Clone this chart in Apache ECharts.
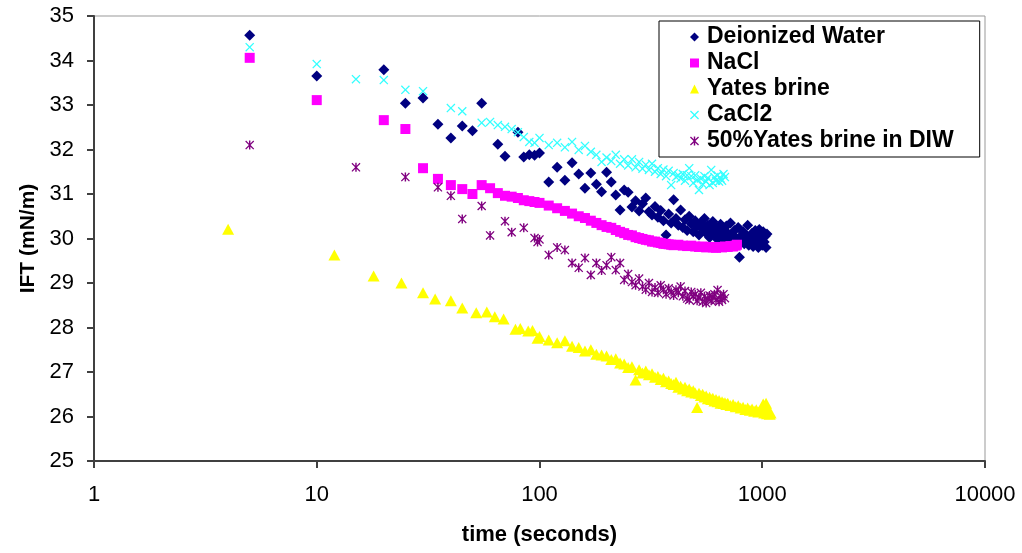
<!DOCTYPE html>
<html><head><meta charset="utf-8">
<script src="https://cdn.jsdelivr.net/npm/echarts@6/dist/echarts.min.js"></script>
<style>html,body{margin:0;padding:0;background:#fff}#c{width:1022px;height:553px}</style>
</head><body><div id="c"></div>
<script>
// ---- data (time in seconds, IFT in mN/m) ----
const seriesNames = ['Deionized Water', 'NaCl', 'Yates brine', 'CaCl2', '50%Yates brine in DIW'];
const xTickLabels = ['1', '10', '100', '1000', '10000'];
const yTickLabels = ['25', '26', '27', '28', '29', '30', '31', '32', '33', '34', '35'];

const diwData = [
  [5,34.57],[10,33.65],[20,33.79],[25,33.04],[30,33.16],[35,32.57],[40,32.26],[45,32.53],[50,32.42],[55,33.04],
  [65,32.12],[70,31.85],[80,32.39],[85,31.83],[90,31.88],[95,31.87],
  [100,31.92],[110,31.27],[120,31.60],[130,31.31],[140,31.70],[150,31.45],[160,31.13],[170,31.47],[180,31.22],[190,31.05],
  [200,31.49],[210,31.27],[220,30.98],[230,30.64],[240,31.09],[250,31.04],[260,30.71],[270,30.85],[280,30.62],[290,30.78],
  [300,30.91],[310,30.60],[320,30.53],[330,30.72],[340,30.48],[350,30.63],[360,30.40],[370,30.08],[380,30.55],[390,30.35],
  [400,30.87],[410,30.45],[420,30.30],[430,30.64],[440,30.25],[450,30.42],[460,30.18],[470,30.50],[480,30.33],[490,30.15],
  [500,30.40],[510,30.28],[520,30.08],[530,30.35],[540,30.22],[550,30.45],[560,30.12],[570,30.30],[580,30.02],[590,30.20],
  [600,30.38],[610,30.10],[620,30.25],[630,29.98],[640,30.15],[650,30.32],[660,30.05],[670,30.20],[680,29.95],[690,30.28],
  [700,30.12],[710,30.00],[720,30.35],[730,30.08],[740,29.93],[750,30.18],[760,30.02],[770,29.90],[780,30.25],[790,29.58],
  [800,30.05],[810,29.95],[820,30.15],[830,29.88],[840,30.08],[850,29.98],[860,30.30],[870,29.85],[880,30.05],[890,29.92],
  [900,30.12],[910,29.82],[920,30.00],[930,30.18],[940,29.88],[950,30.05],[960,29.80],[970,30.20],[980,29.95],[990,30.10],
  [1000,29.85],[1010,30.15],[1020,29.92],[1030,30.05],[1040,29.80],[1050,30.10]
];

const naclData = [
  [5,34.06],[10,33.11],[20,32.66],[25,32.46],[30,31.58],[35,31.34],[40,31.20],[45,31.11],[50,31.00],[55,31.20],
  [60,31.13],[65,31.02],[70,30.96],[75,30.94],[80,30.91],[85,30.86],[90,30.84],[95,30.82],
  [100,30.80],[110,30.74],[120,30.68],[130,30.62],[140,30.56],[150,30.50],[160,30.46],[170,30.40],[180,30.35],[190,30.30],
  [200,30.26],[210,30.24],[220,30.19],[230,30.15],[240,30.12],[250,30.08],[260,30.07],[270,30.03],[280,30.01],[290,29.99],
  [300,29.97],[310,29.96],[320,29.93],[330,29.93],[340,29.91],[350,29.90],[360,29.88],[370,29.88],[380,29.87],[390,29.86],
  [400,29.85],[420,29.86],[440,29.84],[460,29.83],[480,29.84],[500,29.82],[520,29.81],[540,29.82],[560,29.80],[580,29.81],
  [600,29.80],[620,29.79],[640,29.81],[660,29.80],[680,29.82],[700,29.81],[720,29.83],[740,29.82],[760,29.84],[770,29.86]
];

const yatesData = [
  [4,30.21],[12,29.63],[18,29.16],[24,29.00],[30,28.78],[34,28.64],[40,28.60],[45,28.44],[52,28.33],[58,28.35],
  [63,28.24],[69,28.19],[78,27.96],[82,27.98],[89,27.92],[93,27.93],[98,27.76],
  [100,27.80],[110,27.72],[120,27.66],[130,27.70],[140,27.58],[150,27.55],[160,27.47],[170,27.50],[180,27.40],[190,27.38],
  [200,27.36],[210,27.28],[220,27.30],[230,27.20],[240,27.18],[250,27.10],[260,27.12],[270,26.82],[280,27.05],[290,26.98],
  [300,27.02],[310,26.94],[320,26.96],[330,26.88],[340,26.90],[350,26.83],[360,26.86],[370,26.78],[380,26.80],[390,26.74],
  [400,26.72],[410,26.77],[420,26.66],[430,26.68],[440,26.62],[450,26.66],[460,26.58],[470,26.62],[480,26.55],[490,26.58],
  [500,26.53],[510,26.20],[520,26.52],[530,26.47],[540,26.50],[550,26.44],[560,26.46],[570,26.40],[580,26.43],[590,26.38],
  [600,26.41],[610,26.35],[620,26.38],[630,26.33],[640,26.36],[650,26.30],[660,26.33],[670,26.29],[680,26.31],[690,26.27],
  [700,26.30],[720,26.25],[740,26.27],[760,26.22],[780,26.24],[800,26.19],[820,26.21],[840,26.16],[860,26.19],[880,26.14],
  [900,26.17],[920,26.12],[940,26.15],[960,26.10],[980,26.14],[1000,26.20],[1010,26.28],[1020,26.08],[1030,26.13],[1040,26.30],
  [1050,26.06],[1060,26.15],[1070,26.10],[1080,26.05],[1090,26.08]
];

const cacl2Data = [
  [5,34.30],[10,33.92],[15,33.58],[20,33.56],[25,33.34],[30,33.31],[40,32.93],[45,32.86],[55,32.60],[60,32.62],
  [65,32.55],[70,32.51],[75,32.46],[80,32.39],[85,32.28],[90,32.17],[95,32.15],
  [100,32.26],[110,32.10],[120,32.15],[130,32.05],[140,32.17],[150,31.99],[160,32.08],[170,31.95],[180,31.88],[190,31.72],
  [200,31.82],[210,31.74],[220,31.88],[230,31.68],[240,31.78],[250,31.64],[260,31.78],[270,31.60],[280,31.72],[290,31.57],
  [300,31.66],[310,31.54],[320,31.68],[330,31.50],[340,31.58],[350,31.45],[360,31.55],[370,31.40],[380,31.52],[390,31.20],
  [400,31.47],[410,31.38],[420,31.42],[430,31.35],[440,31.45],[450,31.30],[460,31.42],[470,31.58],[480,31.40],[490,31.25],
  [500,31.42],[510,31.31],[520,31.09],[530,31.35],[540,31.22],[550,31.40],[560,31.28],[570,31.36],[580,31.20],[590,31.54],
  [600,31.25],[610,31.38],[620,31.30],[630,31.42],[640,31.28],[650,31.35],[660,31.30],[670,31.45],[680,31.38]
];

const mixData = [
  [5,32.10],[15,31.60],[25,31.38],[35,31.15],[40,30.96],[45,30.44],[55,30.73],[60,30.07],[70,30.39],[75,30.14],
  [85,30.24],[95,30.01],[98,29.92],
  [100,29.98],[110,29.63],[120,29.80],[130,29.74],[140,29.45],[150,29.34],[160,29.56],[170,29.18],[180,29.45],[190,29.28],
  [200,29.40],[210,29.58],[220,29.29],[230,29.45],[240,29.07],[250,29.20],[260,29.02],[270,28.95],[280,29.10],[290,28.92],
  [300,28.85],[310,29.00],[320,28.80],[330,28.90],[340,28.78],[350,28.95],[360,28.85],[370,28.75],[380,28.88],[390,28.80],
  [400,28.72],[410,28.85],[420,28.78],[430,28.92],[440,28.70],[450,28.82],[460,28.65],[470,28.62],[480,28.80],[490,28.70],
  [500,28.75],[510,28.60],[520,28.68],[530,28.78],[540,28.58],[550,28.70],[560,28.55],[570,28.65],[580,28.72],[590,28.60],
  [600,28.68],[610,28.75],[620,28.62],[630,28.84],[640,28.58],[650,28.70],[660,28.62],[670,28.75],[680,28.66]
];

// ---- chart ----
const FONT = '"Liberation Sans", Arial, sans-serif';
const crossPath = 'path://M0,1 L1,0 L5,4 L9,0 L10,1 L6,5 L10,9 L9,10 L5,6 L1,10 L0,9 L4,5 Z';
const starPath = 'path://M0,1 L1,0 L5,4 L9,0 L10,1 L6,5 L10,9 L9,10 L5,6 L1,10 L0,9 L4,5 Z M4.2,0 L5.8,0 L5.8,10 L4.2,10 Z';

const chart = echarts.init(document.getElementById('c'), null, {renderer: 'canvas'});
const axisColor = '#404040';
chart.setOption({
  animation: false,
  backgroundColor: '#ffffff',
  grid: {left: 94, right: 37, top: 16, bottom: 92, show: true, borderColor: '#999999', borderWidth: 1},
  xAxis: {
    type: 'log', logBase: 10, min: 1, max: 10000,
    name: 'time (seconds)', nameLocation: 'middle', nameGap: 63,
    nameTextStyle: {fontFamily: FONT, fontSize: 22, fontWeight: 'bold', color: '#000'},
    axisLine: {lineStyle: {color: axisColor, width: 2}},
    axisTick: {show: true, length: 7, lineStyle: {color: axisColor, width: 2}},
    minorTick: {show: false},
    axisLabel: {fontFamily: FONT, fontSize: 22, color: '#000', margin: 23,
      formatter: v => xTickLabels[Math.round(Math.log10(v))] || ''},
    splitLine: {show: false}
  },
  yAxis: {
    type: 'value', min: 25, max: 35, interval: 1,
    name: 'IFT (mN/m)', nameLocation: 'middle', nameGap: 52, nameRotate: 90,
    nameTextStyle: {fontFamily: FONT, fontSize: 21, fontWeight: 'bold', color: '#000'},
    axisLine: {show: true, lineStyle: {color: axisColor, width: 2}},
    axisTick: {show: true, length: 7, lineStyle: {color: axisColor, width: 2}},
    axisLabel: {fontFamily: FONT, fontSize: 22, color: '#000', margin: 20,
      formatter: v => yTickLabels[Math.round(v - 25)]},
    splitLine: {show: false}
  },
  legend: {
    orient: 'vertical', left: 659, top: 21,
    padding: [3, 26, 3, 31], itemGap: 0, itemWidth: 9, itemHeight: 9,
    borderColor: '#000', borderWidth: 1, backgroundColor: '#fff',
    textStyle: {fontFamily: FONT, fontSize: 23, fontWeight: 'bold', color: '#000', lineHeight: 26, padding: [0, 0, 0, 3]},
    data: seriesNames
  },
  series: [
    {name: seriesNames[0], type: 'scatter', data: diwData, symbol: 'diamond', symbolSize: 11,
     itemStyle: {color: '#000080', opacity: 1}},
    {name: seriesNames[1], type: 'scatter', data: naclData, symbol: 'rect', symbolSize: 10,
     itemStyle: {color: '#FF00FF', opacity: 1}},
    {name: seriesNames[2], type: 'scatter', data: yatesData, symbol: 'triangle', symbolSize: [12, 11],
     itemStyle: {color: '#FFFF00', opacity: 1}},
    {name: seriesNames[3], type: 'scatter', data: cacl2Data, symbol: crossPath, symbolSize: 9,
     itemStyle: {color: '#33FFFF', opacity: 1}},
    {name: seriesNames[4], type: 'scatter', data: mixData, symbol: starPath, symbolSize: 9,
     itemStyle: {color: '#800080', opacity: 1}}
  ]
});
</script>
</body></html>
